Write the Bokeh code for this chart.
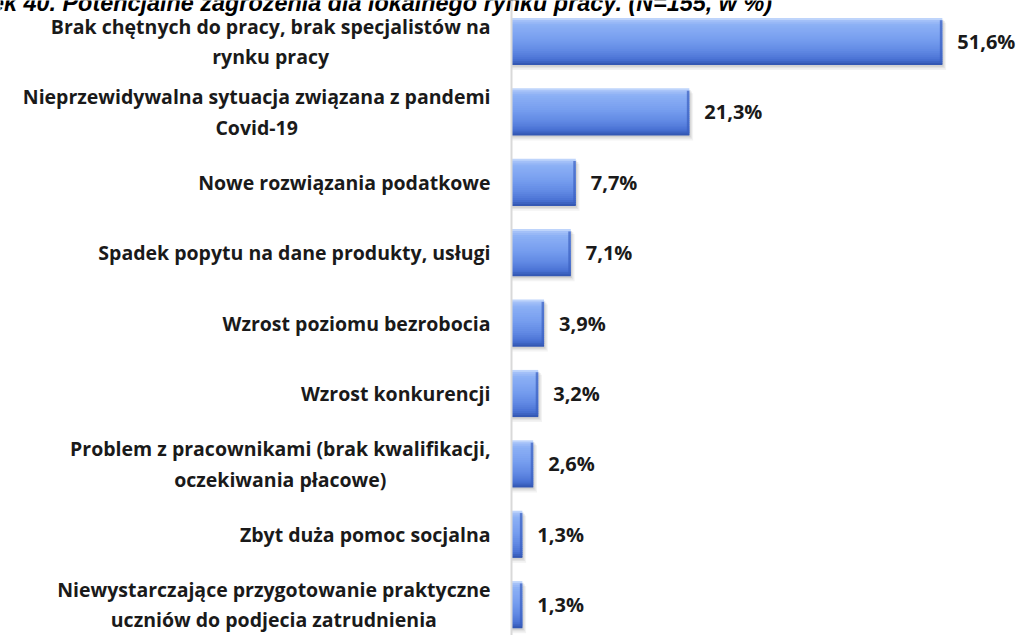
from bokeh.plotting import figure
from bokeh.models import Range1d, Span, ColumnDataSource
from bokeh.core.properties import value
from bokeh.embed import file_html
from bokeh.resources import INLINE

title = "Rysunek 40. Potencjalne zagrożenia dla lokalnego rynku pracy. (N=155, w %)"
categories = [
    "Brak chętnych do pracy, brak specjalistów na\nrynku pracy",
    "Nieprzewidywalna sytuacja związana z pandemi\nCovid-19",
    "Nowe rozwiązania podatkowe",
    "Spadek popytu na dane produkty, usługi",
    "Wzrost poziomu bezrobocia",
    "Wzrost konkurencji",
    "Problem z pracownikami (brak kwalifikacji,\noczekiwania płacowe)",
    "Zbyt duża pomoc socjalna",
    "Niewystarczające przygotowanie praktyczne\nuczniów do podjecia zatrudnienia",
]
values = [51.6, 21.3, 7.7, 7.1, 3.9, 3.2, 2.6, 1.3, 1.3]
value_labels = [f"{v:.1f}%".replace(".", ",") for v in values]

ys = list(range(len(categories)))
src = ColumnDataSource(dict(y=ys, v=values, cat=categories, lab=value_labels))

# screen layout: axis at x=511 px, 8.35 px per %, rows at 41 + 70.4*i px
X0, X1 = -61.2, 60.84
Y_BOTTOM, Y_TOP = (635 - 41) / 70.4, -41 / 70.4

p = figure(width=1019, height=635, output_backend="svg", toolbar_location=None,
           x_range=Range1d(X0, X1), y_range=Range1d(Y_BOTTOM, Y_TOP),
           x_axis_type=None, y_axis_type=None, min_border=0)
p.grid.visible = False
p.outline_line_color = None
p.background_fill_color = "white"
p.border_fill_color = "white"

H = 0.67

# soft drop shadow
for dy, dx, a in [(0.07, 0.45, 0.09), (0.045, 0.3, 0.13), (0.025, 0.15, 0.17)]:
    p.hbar(y=[y + dy for y in ys], left=0, right=[v + dx for v in values], height=H,
           fill_color="#7f7f7f", fill_alpha=a, line_color=None)

# bevelled gradient bars (stacked thin horizontal strips, drawn top to bottom)
stops = [(0.0, (0xcf, 0xe0, 0xfd)), (0.05, (0xa6, 0xc2, 0xf8)), (0.15, (0x8c, 0xb0, 0xf5)),
         (0.45, (0x77, 0x9e, 0xef)), (0.7, (0x61, 0x89, 0xe3)), (0.88, (0x4a, 0x72, 0xd4)),
         (1.0, (0x2f, 0x52, 0xad))]


def color_at(t):
    for (t0, c0), (t1, c1) in zip(stops[:-1], stops[1:]):
        if t0 <= t <= t1:
            f = (t - t0) / (t1 - t0)
            c = [round(c0[k] + (c1[k] - c0[k]) * f) for k in range(3)]
            return "#%02x%02x%02x" % tuple(c)
    return "#%02x%02x%02x" % stops[-1][1]


N = 24
for k in range(N):
    a, b = k / N, (k + 1) / N
    b_ext = b if k == N - 1 else min(1.0, b + 0.6 / N)
    p.hbar(y=[y - H / 2 + (a + b_ext) / 2 * H for y in ys], left=0, right=values,
           height=(b_ext - a) * H, fill_color=color_at((a + b) / 2), line_color=None)

# darker right-end face
p.hbar(y=ys, left=[max(v - 0.3, 0) for v in values], right=values, height=H * 0.9,
       fill_color="#3a60c0", fill_alpha=0.7, line_color=None)

p.add_layout(Span(location=0, dimension="height", line_color="#d9d9d9", line_width=2))

p.text(x=0, y="y", text="cat", source=src, x_offset=-21, anchor="center_right",
       text_align="center", text_font=value("Open Sans"), text_font_style="bold",
       text_font_size="19.5px", text_color="#1a1a1a", text_line_height=1.12)

p.text(x="v", y="y", text="lab", source=src, x_offset=15, anchor="center_left",
       text_font=value("Open Sans"), text_font_style="bold", text_font_size="20px",
       text_color="#1a1a1a")

p.text(x=[X0], y=[Y_TOP], text=[title], x_offset=-81, y_offset=2,
       text_baseline="alphabetic", text_align="left",
       text_font=value("Liberation Sans"), text_font_style="bold italic",
       text_font_size="23.4px", text_color="#000000")

open("out.html", "w").write(file_html(p, INLINE))
